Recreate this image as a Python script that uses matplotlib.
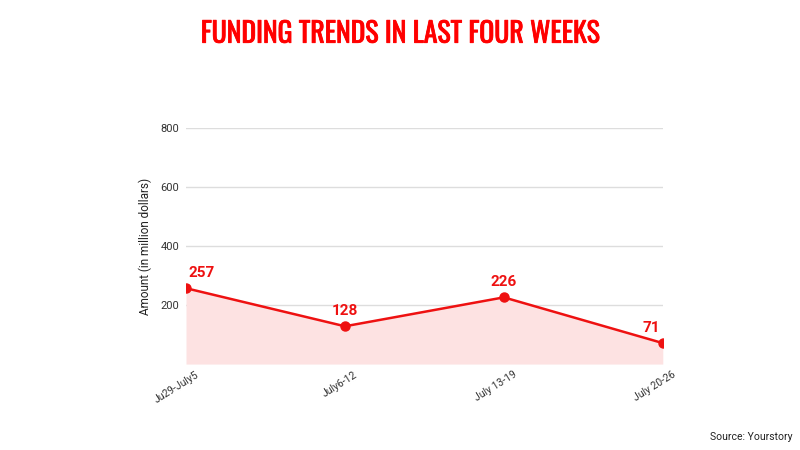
import matplotlib
matplotlib.use("Agg")
import matplotlib.pyplot as plt
import matplotlib.transforms as mtransforms
import matplotlib.patheffects as pe

weeks = ["Ju29-July5", "July6-12", "July 13-19", "July 20-26"]
amounts = [257, 128, 226, 71]
yticks = [200, 400, 600, 800]

plt.rcParams['font.family'] = ['Roboto', 'DejaVu Sans']

fig = plt.figure(figsize=(8, 4.5), dpi=100)
ax = fig.add_axes([0.2325, 0.191, 0.596, 0.5246])

red = "#ee1111"
x = list(range(len(weeks)))
ax.fill_between(x, amounts, 0, color="#fde2e2", lw=0)
ax.plot(x, amounts, color=red, lw=1.8, marker="o", ms=6.5, zorder=3)
n = len(x)
for xi, v in zip(x, amounts):
    if xi == 0:
        ha, dx = "left", 2
    elif xi == n - 1:
        ha, dx = "right", -2
    else:
        ha, dx = "center", 0
    ax.annotate(str(v), (xi, v), xytext=(dx, 6), textcoords="offset points",
                ha=ha, va="bottom", color=red, fontsize=11, fontweight="bold")

ax.set_xlim(0, n - 1)
ax.set_ylim(0, 800)
ax.set_yticks(yticks)
ax.set_yticklabels([str(t) for t in yticks], fontsize=8, color="#333333")
ax.set_xticks(x)
ax.set_xticklabels(weeks, rotation=32, ha="right", rotation_mode="anchor", fontsize=7.5, color="#333333")
ax.tick_params(axis="y", length=0, pad=5)
ax.tick_params(axis="x", length=0, pad=4)
offset = mtransforms.ScaledTranslation(9 / 100, 0, fig.dpi_scale_trans)
for lbl in ax.get_xticklabels():
    lbl.set_transform(lbl.get_transform() + offset)
ax.grid(axis="y", color="#dddddd", lw=1)
ax.set_axisbelow(True)
for s in ax.spines.values():
    s.set_visible(False)
ax.set_ylabel("Amount (in million dollars)", fontsize=8.5, color="#222222", labelpad=6)

fig.text(0.5, 0.924, "FUNDING TRENDS IN LAST FOUR WEEKS", ha="center", va="center",
         color="#ff0000", fontsize=20, fontweight="bold",
         family=["Oswald", "Bebas Neue", "IBM Plex Sans Condensed", "DejaVu Sans"],
         path_effects=[pe.withStroke(linewidth=0.6, foreground="#ff0000")])
fig.text(0.99, 0.03, "Source: Yourstory", ha="right", va="center", fontsize=7.5, color="#222222")

fig.savefig("out.png", dpi=100)
